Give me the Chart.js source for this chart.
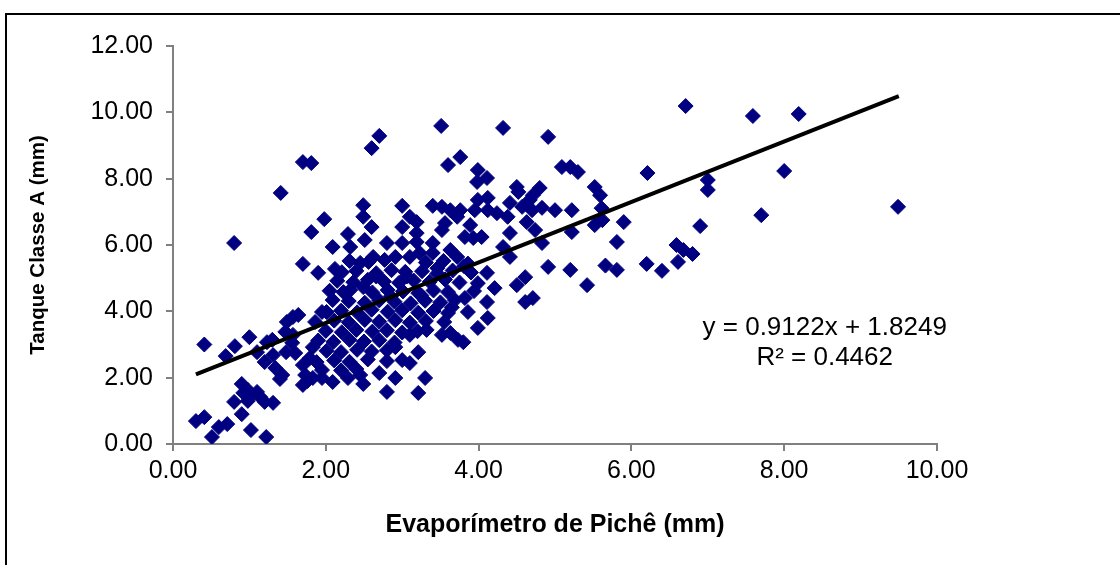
<!DOCTYPE html>
<html><head><meta charset="utf-8">
<script src="https://cdn.jsdelivr.net/npm/chart.js@4.4.1/dist/chart.umd.min.js"></script>
<style>
html,body{margin:0;padding:0;background:#fff;overflow:hidden}
#wrap{position:relative;width:1120px;height:565px}
#frame{position:absolute;left:5px;top:13px;width:1200px;height:600px;border:2px solid #000;box-sizing:border-box}
canvas{position:absolute;left:0;top:0}
</style></head>
<body><div id="wrap"><div id="frame"></div><canvas id="c" width="1120" height="565"></canvas></div>
<script>
const xTitle = 'Evaporímetro de Pichê (mm)';
const yTitle = 'Tanque Classe A (mm)';
const xTicks = [0, 2, 4, 6, 8, 10];
const yTicks = [0, 2, 4, 6, 8, 10, 12];
const equationLines = ['y = 0.9122x + 1.8249', 'R² = 0.4462'];
const trendX = [0.3, 9.5];
const trendY = [2.10, 10.49];

const piche = [
0.30,0.41,0.51,0.60,0.71,0.90,1.02,1.22,0.80,0.92,0.41,0.69,0.81,0.80,1.00,0.90,0.98,1.03,1.10,1.14,
1.20,1.31,0.98,1.41,1.70,1.81,1.81,1.98,1.70,1.90,1.57,1.64,1.49,1.47,1.57,1.56,1.60,1.30,1.31,1.20,
1.34,1.43,1.40,1.70,1.83,1.79,1.88,1.73,1.70,1.83,1.95,1.95,1.95,1.86,1.10,1.23,1.48,1.76,
2.70,2.60,3.51,3.60,3.76,4.32,4.91,3.99,4.11,3.98,5.09,5.20,5.30,
2.49,2.49,3.00,3.10,3.19,3.40,3.52,3.63,3.56,3.72,2.60,3.00,3.19,2.29,2.09,2.32,2.51,2.80,3.00,3.19,
3.40,3.52,2.12,2.62,2.45,2.91,3.10,3.23,3.40,3.63,3.72,
4.50,4.52,4.80,4.71,4.67,4.41,4.12,3.99,3.95,3.76,4.12,4.24,4.57,4.70,4.83,5.00,5.22,4.38,4.63,4.41,
4.74,4.83,5.22,5.52,5.62,4.32,4.41,3.93,3.82,3.89,4.04,4.11,4.91,5.20,5.66,5.52,5.59,3.99,4.21,4.50,
4.61,4.11,4.61,4.71,5.42,4.12,3.99,3.80,3.82,3.86,
6.71,7.59,8.19,6.21,8.00,7.00,7.00,9.49,7.70,6.90,5.90,5.81,5.61,6.59,6.68,6.80,6.61,6.20,6.40,5.81,
2.70,2.91,2.80,2.49,3.21,3.30,3.00,3.10,3.21,2.80,2.91,3.10,3.32,3.52,3.63,3.73,2.09,2.01,2.32,2.49,
2.45,2.29,2.09,2.23,
2.31,2.56,2.77,3.31,3.54,3.86,
2.21,2.40,2.66,2.86,3.04,3.26,3.46,3.66,3.90,
2.15,2.36,2.55,2.76,2.96,3.15,3.36,3.56,3.75,
2.05,2.61,2.81,3.01,3.21,3.41,3.60,3.94,
2.30,2.51,2.70,2.90,3.11,3.30,3.50,3.69,
2.20,2.41,2.60,2.81,3.00,3.21,3.41,3.60,
2.11,2.30,2.51,2.70,2.91,3.10,3.31,3.55,
2.00,2.21,2.40,2.61,2.80,3.00,3.20,
1.90,2.10,2.31,2.50,2.70,2.90,
2.01,2.20,2.41,2.60,
2.11,2.31,2.55,2.80,
2.20,2.40,
2.66,3.06,3.46,3.81,2.85,3.25,3.65
];
const tanque = [
0.69,0.81,0.21,0.51,0.60,0.90,0.42,0.21,1.27,1.54,3.00,2.65,2.95,6.06,3.22,1.81,1.63,1.48,1.57,1.42,
1.27,1.24,1.30,7.57,8.50,8.47,6.39,6.78,5.43,5.16,3.83,3.89,3.68,3.38,3.29,3.05,2.74,3.14,2.68,2.47,
2.29,2.08,1.96,2.38,2.92,2.59,2.47,2.08,1.78,1.99,1.99,2.23,3.98,3.68,2.77,3.07,2.77,1.90,
9.29,8.92,9.59,8.41,8.65,9.53,9.26,8.26,8.02,7.90,8.35,8.35,8.20,
7.20,6.85,7.18,6.85,6.69,7.18,7.15,7.05,6.66,6.85,6.54,6.54,6.36,6.33,5.94,5.94,6.15,6.06,6.06,6.09,
6.06,6.45,5.28,5.64,5.46,5.64,5.64,5.76,5.76,5.85,5.64,
7.75,7.60,7.72,7.50,7.36,7.27,7.42,7.36,7.05,7.05,7.05,6.96,7.15,7.05,7.12,7.05,7.05,6.85,6.69,6.36,
6.45,6.06,6.39,6.60,6.75,5.94,5.64,6.21,6.24,6.60,6.24,5.16,5.34,5.25,5.38,7.75,7.50,4.85,4.70,4.79,
5.03,4.28,4.28,4.40,4.79,3.80,3.50,3.07,4.40,3.98,
10.19,9.89,9.95,8.17,8.23,7.96,7.66,7.15,6.90,6.57,6.69,6.09,7.11,6.00,5.85,5.73,5.49,5.43,5.22,5.25,
2.14,1.99,1.57,1.81,1.54,1.99,2.53,2.44,2.77,2.83,2.92,3.29,3.44,3.29,3.35,3.14,4.34,3.98,4.64,4.73,
2.08,1.99,1.87,4.58,
5.52,5.49,5.55,5.47,5.52,5.44,
5.18,5.22,5.15,5.24,5.19,5.21,5.14,5.23,5.17,
4.92,4.88,4.95,4.90,4.86,4.93,4.89,4.96,4.87,
4.62,4.57,4.64,4.60,4.55,4.63,4.58,4.61,
4.31,4.26,4.33,4.29,4.24,4.32,4.27,4.34,
4.02,3.97,4.05,3.99,4.03,3.96,4.01,3.95,
3.72,3.67,3.74,3.69,3.73,3.66,3.71,3.68,
3.41,3.37,3.44,3.39,3.43,3.36,3.40,
3.12,3.08,3.14,3.09,3.13,3.06,
2.81,2.77,2.84,2.79,
2.52,2.48,2.55,2.50,
2.22,2.26,
5.05,5.05,5.30,5.36,4.45,4.48,4.12
];

const points = piche.map((v, i) => ({x: v, y: tanque[i]}));
const trend = trendX.map((v, i) => ({x: v, y: trendY[i]}));

const FONT = '"Liberation Sans", Arial, sans-serif';
const PAD = {left: 20, right: 183, top: 46, bottom: 20};

const eqPlugin = {
  id: 'eq',
  afterDatasetsDraw(chart) {
    const {ctx, scales: {x, y}} = chart;
    ctx.save();
    ctx.font = '26px ' + FONT;
    ctx.fillStyle = '#000';
    ctx.textAlign = 'center';
    ctx.textBaseline = 'middle';
    ctx.fillText(equationLines[0], x.getPixelForValue(8.53), y.getPixelForValue(3.50));
    ctx.fillText(equationLines[1], x.getPixelForValue(8.53), y.getPixelForValue(2.60));
    ctx.restore();
  }
};

new Chart(document.getElementById('c'), {
  type: 'scatter',
  data: {
    datasets: [
      {type: 'line', data: trend, borderColor: '#000', borderWidth: 4, pointRadius: 0, fill: false, tension: 0},
      {data: points, pointStyle: 'rectRot', pointRadius: 7.5, pointHoverRadius: 7.5,
       backgroundColor: '#000080', borderColor: '#000080', borderWidth: 1}
    ]
  },
  options: {
    responsive: false,
    animation: false,
    events: [],
    layout: {padding: PAD},
    plugins: {legend: {display: false}, tooltip: {enabled: false}},
    scales: {
      x: {
        type: 'linear', min: 0, max: 10,
        afterBuildTicks: s => { s.ticks = xTicks.map(v => ({value: v})); },
        afterFit: s => { s.height = 565 - PAD.bottom - 444; },
        ticks: {callback: v => Number(v).toFixed(2), color: '#000', font: {family: FONT, size: 25}, padding: 5, maxRotation: 0},
        grid: {drawOnChartArea: false, drawTicks: true, tickLength: 7, color: '#808080', lineWidth: 2},
        border: {display: true, color: '#808080', width: 2},
        title: {display: true, text: xTitle, color: '#000', font: {family: FONT, size: 25, weight: 'bold'}, padding: {top: 0, bottom: 5}}
      },
      y: {
        type: 'linear', min: 0, max: 12,
        afterBuildTicks: s => { s.ticks = yTicks.map(v => ({value: v})); },
        afterFit: s => { s.width = 173 - PAD.left; },
        ticks: {callback: v => Number(v).toFixed(2), color: '#000', font: {family: FONT, size: 25}, padding: 13},
        grid: {drawOnChartArea: false, drawTicks: true, tickLength: 7, color: '#808080', lineWidth: 2},
        border: {display: true, color: '#808080', width: 2},
        title: {display: true, text: yTitle, color: '#000', font: {family: FONT, size: 20.5, weight: 'bold'}, padding: {top: 6, bottom: 0}}
      }
    }
  },
  plugins: [eqPlugin]
});
</script>
</body></html>
